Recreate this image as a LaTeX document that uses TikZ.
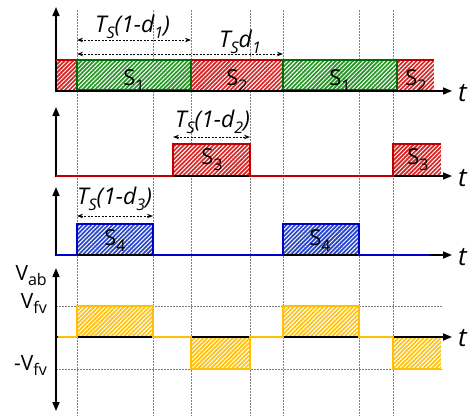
\documentclass[tikz,border=0pt]{standalone}
\usepackage{fontspec}
\setmainfont{Open Sans}
\usetikzlibrary{patterns.meta,arrows.meta}
\definecolor{cred}{RGB}{192,0,0}
\definecolor{credf}{RGB}{215,40,40}
\definecolor{cgreen}{RGB}{0,110,0}
\definecolor{cgreenf}{RGB}{40,150,40}
\definecolor{cblue}{RGB}{0,0,200}
\definecolor{cbluef}{RGB}{40,70,200}
\definecolor{cyel}{RGB}{255,192,0}
\definecolor{cyelf}{RGB}{255,195,20}
\newcommand\lsub[1]{\raisebox{-0.3em}{\fontsize{16}{16}\selectfont #1}}
\newcommand\vsub[1]{\raisebox{-0.25em}{\fontsize{16}{16}\selectfont #1}}
\newcommand\hatchrect[5]{\fill[#1] (#2,#3) rectangle (#4,#5);
  \fill[hatchfill] (#2,#3) rectangle (#4,#5);}
\begin{document}
\begin{tikzpicture}[x=1pt,y=-1pt,
  hatchfill/.style={pattern={Lines[angle=45,distance=3pt,line width=1pt]}, pattern color=white},
  gridline/.style={gray, line width=0.7pt, dash pattern=on 1.5pt off 1.5pt},
  axis/.style={black, line width=1.6pt, -{Triangle[length=9pt,width=7pt]}},
  dim/.style={black, line width=0.9pt, dash pattern=on 2pt off 1.5pt, {Stealth[length=6pt,width=4.5pt]}-{Stealth[length=6pt,width=4.5pt]}},
  sig/.style={line width=1.6pt, line join=miter},
  lab/.style={font=\fontsize{23}{25}\selectfont\itshape, inner sep=0pt, anchor=base west},
  slab/.style={font=\fontsize{22}{24}\selectfont, inner sep=0pt, anchor=base},
  tlab/.style={font=\fontsize{26}{28}\selectfont\itshape, inner sep=0pt, anchor=base west},
  vlab/.style={font=\fontsize{21}{23}\selectfont, inner sep=0pt, anchor=base east}]
\useasboundingbox (0,0) rectangle (470,416);

% vertical grid lines
\foreach \x in {77,153,191,250,283,359,393}
  \draw[gridline] (\x,10) -- (\x,416);
% horizontal grid lines for Vfv and -Vfv
\draw[gridline] (56,306) -- (443,306);
\draw[gridline] (56,369) -- (443,369);

% ---------------- panel 1 ----------------
\hatchrect{credf}{56}{60}{77}{91}
\hatchrect{cgreenf}{77}{60}{191}{91}
\hatchrect{credf}{191}{60}{283}{91}
\hatchrect{cgreenf}{283}{60}{397}{91}
\hatchrect{credf}{397}{60}{434}{91}
\draw[axis] (55,91) -- (452,91);
\draw[axis] (56,91.8) -- (56,7);
\draw[cred, sig] (56,60) -- (77,60);
\draw[cred, sig] (191,60) -- (283,60);
\draw[cred, sig] (397,60) -- (434,60);
\draw[cgreen, sig] (77,60) rectangle (191,89.5);
\draw[cgreen, sig] (283,60) rectangle (397,89.5);
\node[slab] (s1a) at (134,85) {S\lsub{1}};
\node[slab] (s2a) at (237,85) {S\lsub{2}};
\node[slab] (s1b) at (340,85) {S\lsub{1}};
\node[slab] (s2b) at (416,85) {S\lsub{2}};
\node[tlab] (t1) at (458,101) {t};
\coordinate (d1a) at (77,40);
\coordinate (d1b) at (191,40);
\coordinate (d2a) at (77,54);
\coordinate (d2b) at (283,54);
\draw[dim] (d1a) -- (d1b);
\draw[dim] (d2a) -- (d2b);
\node[lab] (L1) at (95,32) {T\lsub{S}(1-d\lsub{1})};
\node[lab] (L2) at (219,47) {T\lsub{S}d\lsub{1}};

% ---------------- panel 2 ----------------
\hatchrect{credf}{173}{144}{250}{176}
\hatchrect{credf}{393}{144}{441}{176}
\draw[axis] (55,176) -- (452,176);
\draw[axis] (56,176.8) -- (56,107);
\draw[cred, sig] (56,176) -- (173,176) -- (173,144) -- (250,144) -- (250,176) -- (393,176) -- (393,144) -- (441,144);
\node[slab] (s3a) at (212,164) {S\lsub{3}};
\node[slab] (s3b) at (418,164) {S\lsub{3}};
\node[tlab] (t2) at (458,186) {t};
\coordinate (d3a) at (173,137);
\coordinate (d3b) at (250,137);
\draw[dim] (d3a) -- (d3b);
\node[lab] (L3) at (175,127) {T\lsub{S}(1-d\lsub{2})};

% ---------------- panel 3 ----------------
\hatchrect{cbluef}{77}{224}{153}{255}
\hatchrect{cbluef}{283}{224}{359}{255}
\draw[axis] (55,255) -- (452,255);
\draw[axis] (56,255.8) -- (56,187);
\draw[cblue, sig] (56,255) -- (77,255) -- (77,224) -- (153,224) -- (153,255) -- (283,255) -- (283,224) -- (359,224) -- (359,255) -- (430,255);
\node[slab] (s4a) at (115,245) {S\lsub{4}};
\node[slab] (s4b) at (320,245) {S\lsub{4}};
\node[tlab] (t3) at (458,265) {t};
\coordinate (d4a) at (77,216);
\coordinate (d4b) at (153,216);
\draw[dim] (d4a) -- (d4b);
\node[lab] (L4) at (77,204) {T\lsub{S}(1-d\lsub{3})};

% ---------------- panel 4 ----------------
\hatchrect{cyelf}{77}{306}{153}{337}
\hatchrect{cyelf}{191}{337}{250}{369}
\hatchrect{cyelf}{283}{306}{359}{337}
\hatchrect{cyelf}{393}{337}{441}{369}
\draw[axis] (56,337) -- (452,337);
\draw[black, line width=1.6pt, {Triangle[length=9pt,width=7pt]}-{Triangle[length=9pt,width=7pt]}] (56,411) -- (56,268);
\draw[cyel, sig] (58,337) -- (77,337) -- (77,306) -- (153,306) -- (153,337) -- (191,337) -- (191,369) -- (250,369) -- (250,337) -- (283,337) -- (283,306) -- (359,306) -- (359,337) -- (393,337) -- (393,369) -- (441,369);
\node[tlab] (t4) at (458,346) {t};
\node[vlab] (vab) at (47,280) {V\vsub{ab}};
\node[vlab] (vfv) at (47,308) {V\vsub{fv}};
\node[vlab] (vfvn) at (47,370) {-V\vsub{fv}};
\end{tikzpicture}
\end{document}
